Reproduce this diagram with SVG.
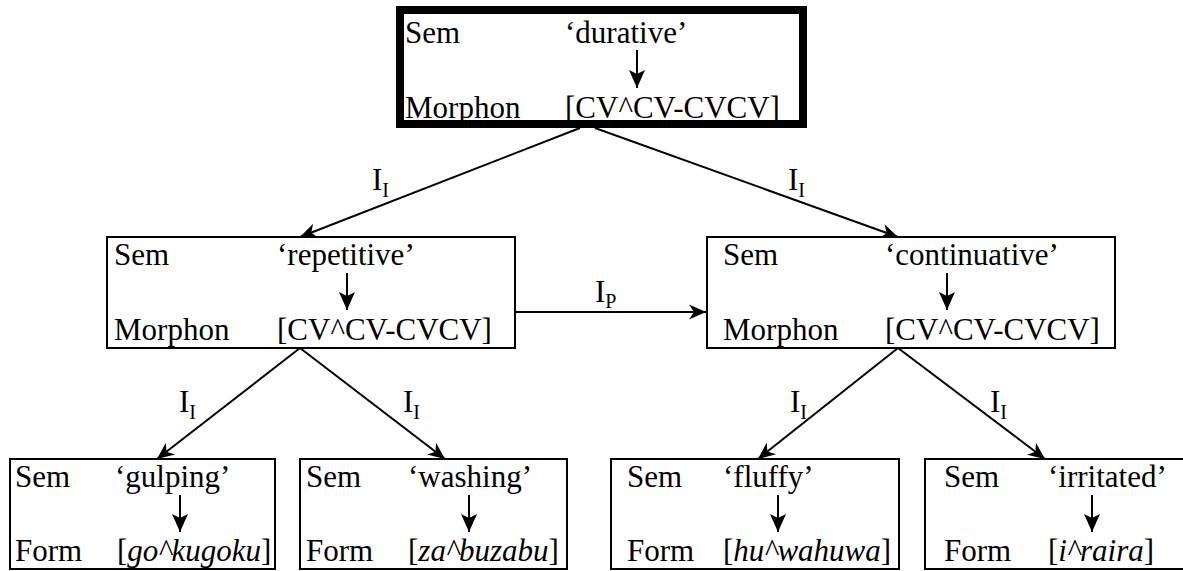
<svg xmlns="http://www.w3.org/2000/svg" width="1183" height="571" viewBox="0 0 1183 571">
<defs>
<marker id="ah" markerUnits="userSpaceOnUse" viewBox="-18 -9 19 18" refX="0" refY="0" markerWidth="19" markerHeight="18" orient="auto">
<path d="M0,0 L-17,-7.5 L-12,0 L-17,7.5 Z" fill="#000"/>
</marker>
<marker id="ai" markerUnits="userSpaceOnUse" viewBox="-18 -10 19 20" refX="0" refY="0" markerWidth="19" markerHeight="20" orient="auto">
<path d="M0,0 L-18,-8 L-14,0 L-18,8 Z" fill="#000"/>
</marker>
</defs>
<rect width="1183" height="571" fill="#fff"/>
<g id="connectors" stroke="#000" stroke-width="2" fill="none">
<line x1="580" y1="128" x2="300" y2="237" marker-end="url(#ah)"/>
<line x1="595" y1="128" x2="898" y2="237" marker-end="url(#ah)"/>
<line x1="516" y1="312" x2="706" y2="312" marker-end="url(#ah)"/>
<line x1="300" y1="348" x2="157" y2="459" marker-end="url(#ah)"/>
<line x1="300" y1="348" x2="445" y2="459" marker-end="url(#ah)"/>
<line x1="898" y1="348" x2="758" y2="459" marker-end="url(#ah)"/>
<line x1="898" y1="348" x2="1045" y2="459" marker-end="url(#ah)"/>
</g>
<g id="connector-labels">
<text font-family="Liberation Serif" font-size="31" x="372" y="190">I<tspan font-size="20" dy="7">I</tspan></text>
<text font-family="Liberation Serif" font-size="31" x="788" y="190">I<tspan font-size="20" dy="7">I</tspan></text>
<text font-family="Liberation Serif" font-size="31" x="595" y="302">I<tspan font-size="20" dy="6">P</tspan></text>
<text font-family="Liberation Serif" font-size="31" x="179" y="412">I<tspan font-size="20" dy="7">I</tspan></text>
<text font-family="Liberation Serif" font-size="31" x="403" y="412">I<tspan font-size="20" dy="7">I</tspan></text>
<text font-family="Liberation Serif" font-size="31" x="790" y="412">I<tspan font-size="20" dy="7">I</tspan></text>
<text font-family="Liberation Serif" font-size="31" x="990" y="412">I<tspan font-size="20" dy="7">I</tspan></text>
</g>

<g id="durative">
<rect x="400" y="10" width="403" height="114" fill="#fff" stroke="#000" stroke-width="8"/>
<text font-family="Liberation Serif" font-size="31" x="405" y="43">Sem</text>
<text font-family="Liberation Serif" font-size="31" x="565" y="43">‘durative’</text>
<line x1="637" y1="50" x2="637" y2="88" stroke="#000" stroke-width="2" marker-end="url(#ai)"/>
<text font-family="Liberation Serif" font-size="31" x="405" y="118">Morphon</text>
<text font-family="Liberation Serif" font-size="31" x="565" y="118">[CV^CV-CVCV]</text>
</g>

<g id="repetitive">
<rect x="107" y="237" width="408" height="111" fill="#fff" stroke="#000" stroke-width="2"/>
<text font-family="Liberation Serif" font-size="31" x="114" y="265">Sem</text>
<text font-family="Liberation Serif" font-size="31" x="277" y="265">‘repetitive’</text>
<line x1="347" y1="273" x2="347" y2="310" stroke="#000" stroke-width="2" marker-end="url(#ai)"/>
<text font-family="Liberation Serif" font-size="31" x="114" y="340">Morphon</text>
<text font-family="Liberation Serif" font-size="31" x="277" y="340">[CV^CV-CVCV]</text>
</g>

<g id="continuative">
<rect x="707" y="237" width="408" height="111" fill="#fff" stroke="#000" stroke-width="2"/>
<text font-family="Liberation Serif" font-size="31" x="723" y="265">Sem</text>
<text font-family="Liberation Serif" font-size="31" x="885" y="265">‘continuative’</text>
<line x1="947" y1="273" x2="947" y2="310" stroke="#000" stroke-width="2" marker-end="url(#ai)"/>
<text font-family="Liberation Serif" font-size="31" x="723" y="340">Morphon</text>
<text font-family="Liberation Serif" font-size="31" x="885" y="340">[CV^CV-CVCV]</text>
</g>

<g id="gulping">
<rect x="10" y="459" width="265" height="110" fill="#fff" stroke="#000" stroke-width="2"/>
<text font-family="Liberation Serif" font-size="31" x="15" y="487">Sem</text>
<text font-family="Liberation Serif" font-size="31" x="115" y="487">‘gulping’</text>
<line x1="180" y1="495" x2="180" y2="532" stroke="#000" stroke-width="2" marker-end="url(#ai)"/>
<text font-family="Liberation Serif" font-size="31" x="15" y="561">Form</text>
<text font-family="Liberation Serif" font-size="31" x="117" y="561">[<tspan font-style="italic">go^kugoku</tspan>]</text>
</g>

<g id="washing">
<rect x="300" y="459" width="267" height="110" fill="#fff" stroke="#000" stroke-width="2"/>
<text font-family="Liberation Serif" font-size="31" x="306" y="487">Sem</text>
<text font-family="Liberation Serif" font-size="31" x="408" y="487">‘washing’</text>
<line x1="469" y1="495" x2="469" y2="532" stroke="#000" stroke-width="2" marker-end="url(#ai)"/>
<text font-family="Liberation Serif" font-size="31" x="306" y="561">Form</text>
<text font-family="Liberation Serif" font-size="31" x="408" y="561">[<tspan font-style="italic">za^buzabu</tspan>]</text>
</g>

<g id="fluffy">
<rect x="611" y="459" width="288" height="110" fill="#fff" stroke="#000" stroke-width="2"/>
<text font-family="Liberation Serif" font-size="31" x="627" y="487">Sem</text>
<text font-family="Liberation Serif" font-size="31" x="723" y="487">‘fluffy’</text>
<line x1="778" y1="495" x2="778" y2="532" stroke="#000" stroke-width="2" marker-end="url(#ai)"/>
<text font-family="Liberation Serif" font-size="31" x="627" y="561">Form</text>
<text font-family="Liberation Serif" font-size="31" x="723" y="561">[<tspan font-style="italic">hu^wahuwa</tspan>]</text>
</g>

<g id="irritated">
<rect x="925" y="459" width="262" height="110" fill="#fff" stroke="#000" stroke-width="2"/>
<text font-family="Liberation Serif" font-size="31" x="944" y="487">Sem</text>
<text font-family="Liberation Serif" font-size="31" x="1048" y="487">‘irritated’</text>
<line x1="1092" y1="495" x2="1092" y2="532" stroke="#000" stroke-width="2" marker-end="url(#ai)"/>
<text font-family="Liberation Serif" font-size="31" x="944" y="561">Form</text>
<text font-family="Liberation Serif" font-size="31" x="1048" y="561">[<tspan font-style="italic">i^raira</tspan>]</text>
</g>
</svg>
